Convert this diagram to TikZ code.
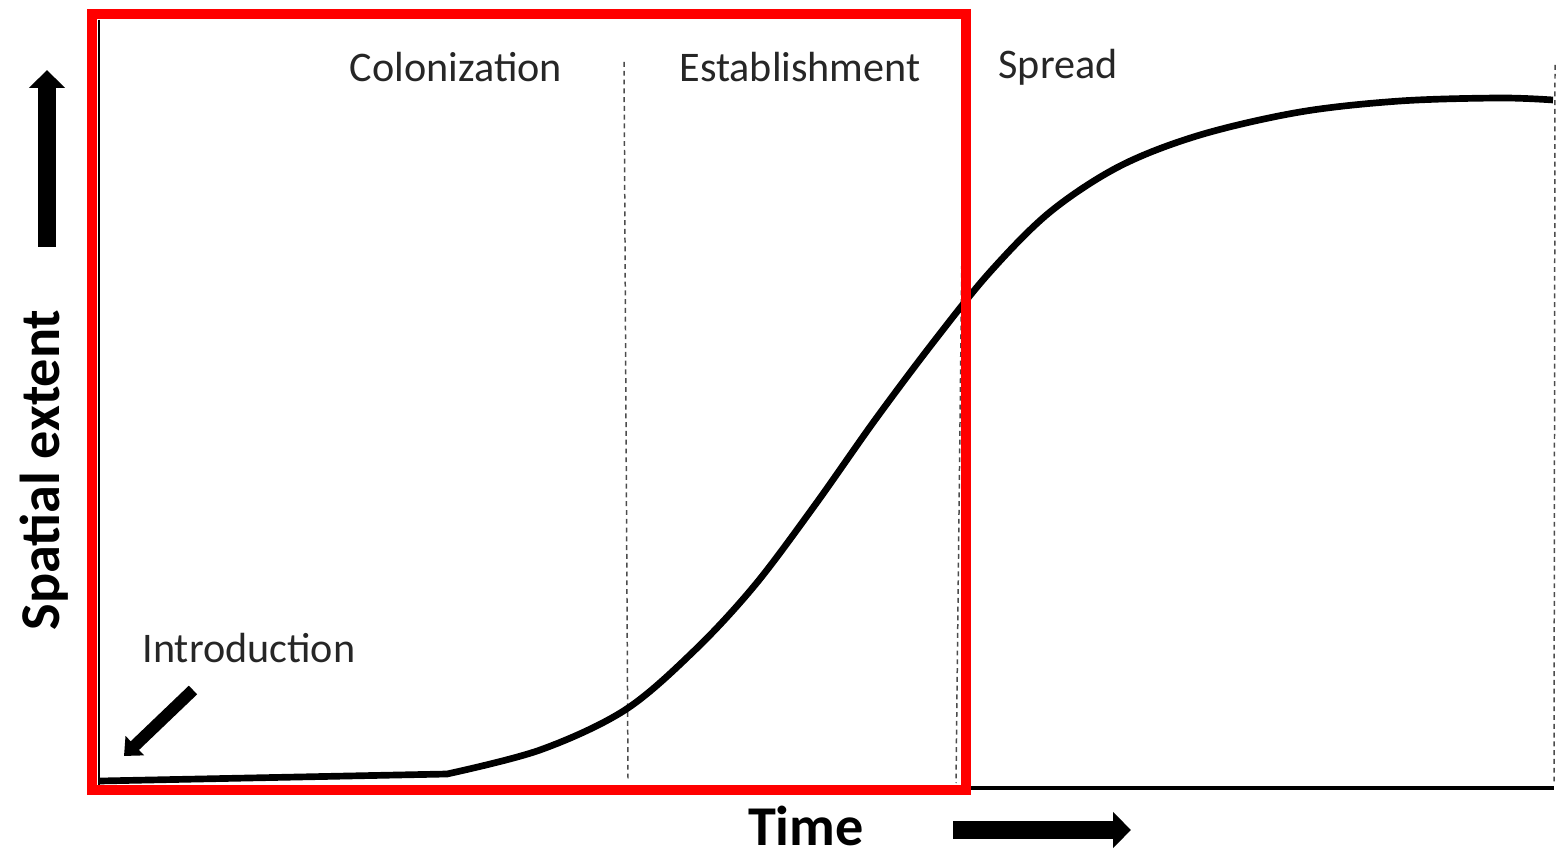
\documentclass[tikz,border=0pt]{standalone}
\usepackage{fontspec}
\setmainfont{Carlito}
\usetikzlibrary{arrows.meta}
\tikzstyle{phase}=[font=\fontsize{24}{28}\selectfont,text=black!85,anchor=base,inner sep=0pt]
\tikzstyle{axislabel}=[font=\fontsize{32}{38}\selectfont\bfseries,anchor=base,inner sep=0pt]

\begin{document}
\begin{tikzpicture}[x=0.02cm,y=-0.02cm]
					\tikzstyle{divider}=[black!70,line width=0.85pt,dash pattern=on 2.8pt off 2.2pt]
					\tikzstyle{curve}=[line width=3.8pt,line join=round]
					\tikzstyle{bigarrow}=[line width=0.38cm,-{Triangle[length=0.36cm,width=0.7cm]}]
					\useasboundingbox (0,0) rectangle (1562,857);
					% phase boundaries
					\coordinate (c1top) at (624,62);
					\coordinate (c1bot) at (628,779);
					\coordinate (c2top) at (964,62);
					\coordinate (c2bot) at (956,783);
					\coordinate (c3top) at (1555,65);
					\coordinate (c3bot) at (1554,785);
					\draw[divider] (c1top) -- (c1bot);
					\draw[divider] (c2top) -- (c2bot);
					\draw[divider] (c3top) -- (c3bot);
					% axes
					\coordinate (origin) at (99,788);
					\coordinate (ytop) at (99,20);
					\coordinate (xend) at (1554,788);
					\draw[line width=1.7pt] (ytop) -- (origin);
					\draw[line width=2.3pt] (origin) -- (xend);
					% spatial extent over time
					\draw[curve] (100,781) -- plot[smooth,tension=0.55] coordinates {(447,774) (540,750) (625,710) (695,650) (755,585) (815,505) (875,420) (935,340) (990,272) (1050,212) (1120,166) (1200,135) (1300,112) (1400,101) (1500,98) (1553,100)};
					% highlighted window
					\node[draw=red,line width=6.2pt,minimum width=874*0.02cm,minimum height=776*0.02cm,inner sep=0pt] (window) at (529,402) {};
					% labels
					\node[phase] (colon) at (456,82) {Colonization};
					\node[phase] (estab) at (800,82) {Establishment};
					\node[phase] (spread) at (1058,79) {Spread};
					\node[phase] (intro) at (249,663) {Introduction};
					\node[axislabel] (time) at (806,845) {Time};
					\node[axislabel,rotate=90] (extent) at (59,470) {Spatial extent};
					% direction arrows
					\coordinate (yarr0) at (47,247);
					\coordinate (yarr1) at (47,70);
					\coordinate (xarr0) at (953,830);
					\coordinate (xarr1) at (1131,830);
					\coordinate (iarr0) at (193,690);
					\coordinate (iarr1) at (124,756);
					\draw[bigarrow] (yarr0) -- (yarr1);
					\draw[bigarrow] (xarr0) -- (xarr1);
					\draw[line width=0.24cm,-{Triangle[length=0.3cm,width=0.52cm]}] (iarr0) -- (iarr1);
\end{tikzpicture}
\end{document}
